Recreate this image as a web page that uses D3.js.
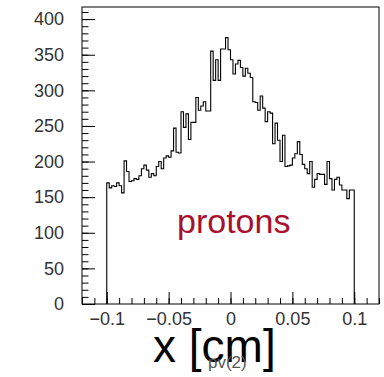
<!DOCTYPE html>
<meta charset="utf-8">
<style>
body { margin: 0; background: #fff; }
svg { display: block; }
.axis text { font-family: "Liberation Sans", Arial, sans-serif; font-size: 18px; fill: #333; }
.axis path { display: none; }
.axis line { stroke: #000; stroke-width: 1; }
</style>
<body>
<svg width="384" height="377"></svg>
</body>
<script src="https://d3js.org/d3.v7.min.js"></script>
<script>

// histogram: 100 bins from -0.1 to 0.1
var binLow = -0.1, binHigh = 0.1;
var counts = [
  170, 163, 166, 165, 170, 166, 156, 201, 186, 172,
  173, 176, 175, 180, 190, 195, 188, 178, 183, 180,
  193, 200, 190, 205, 208, 206, 215, 247, 213, 212,
  270, 248, 267, 231, 255, 255, 290, 272, 278, 284,
  271, 271, 355, 314, 343, 314, 358, 358, 374, 357,
  343, 323, 337, 342, 332, 320, 331, 324, 318, 284,
  283, 272, 292, 275, 256, 270, 268, 225, 254, 230,
  200, 237, 193, 194, 195, 205, 211, 228, 210, 196,
  190, 183, 200, 164, 175, 183, 182, 182, 168, 200,
  176, 160, 175, 178, 167, 160, 160, 148, 160, 160
];

var xTicks = [-0.1, -0.05, 0, 0.05, 0.1];
var xTickLabels = ["\u22120.1", "\u22120.05", "0", "0.05", "0.1"];
var yTicks = [0, 50, 100, 150, 200, 250, 300, 350, 400];
var xTitle = "x [cm]";
var histName = "pv(2)";
var label = "protons";

var svg = d3.select("svg"),
    margin = {top: 7, right: 5, bottom: 73, left: 82},
    width = +svg.attr("width") - margin.left - margin.right,
    height = +svg.attr("height") - margin.top - margin.bottom;

var x = d3.scaleLinear().domain([-0.12, 0.12]).range([0, width]),
    y = d3.scaleLinear().domain([0, 417]).range([height, 0]);

var g = svg.append("g")
    .attr("transform", "translate(" + margin.left + "," + margin.top + ")");

// frame
g.append("rect")
    .attr("width", width)
    .attr("height", height)
    .attr("fill", "none")
    .attr("stroke", "#000")
    .attr("stroke-width", 1);

// minor ticks (no labels)
g.append("g")
    .attr("class", "axis")
    .attr("transform", "translate(0," + height + ")")
    .call(d3.axisBottom(x)
      .tickValues(d3.range(-12, 13).map(function(d) { return d / 100; }))
      .tickSize(-6).tickFormat(""))
    .selectAll("text").remove();

g.append("g")
    .attr("class", "axis")
    .call(d3.axisLeft(y)
      .tickValues(d3.range(0, 411, 10))
      .tickSize(-6.5).tickFormat(""))
    .selectAll("text").remove();

// major ticks + labels
g.append("g")
    .attr("class", "axis")
    .attr("transform", "translate(0," + height + ")")
    .call(d3.axisBottom(x)
      .tickValues(xTicks)
      .tickSize(-12).tickPadding(8)
      .tickFormat(function(d, i) { return xTickLabels[i]; }));

g.append("g")
    .attr("class", "axis")
    .call(d3.axisLeft(y)
      .tickValues(yTicks)
      .tickSize(-13).tickPadding(18)
      .tickFormat(function(d) { return d; }));

// histogram outline
var binWidth = (binHigh - binLow) / counts.length;
var pts = [[binLow, 0]];
counts.forEach(function(c, i) { pts.push([binLow + i * binWidth, c]); });
pts.push([binHigh, counts[counts.length - 1]]);
pts.push([binHigh, 0]);

var line = d3.line()
    .x(function(d) { return x(d[0]); })
    .y(function(d) { return y(d[1]); })
    .curve(d3.curveStepAfter);

g.append("path")
    .datum(pts)
    .attr("d", line)
    .attr("fill", "none")
    .attr("stroke", "#000")
    .attr("stroke-width", 1.1);

// label
g.append("text")
    .attr("x", 95)
    .attr("y", 226)
    .attr("font-family", "Liberation Sans, Arial, sans-serif")
    .attr("font-size", 34)
    .attr("fill", "#a8102f")
    .text(label);

// x title
svg.append("text")
    .attr("x", 153)
    .attr("y", 362)
    .attr("font-family", "Liberation Sans, Arial, sans-serif")
    .attr("font-size", 46)
    .attr("fill", "#000")
    .text(xTitle);

svg.append("text")
    .attr("x", 208)
    .attr("y", 368)
    .attr("font-family", "Liberation Sans, Arial, sans-serif")
    .attr("font-size", 17)
    .attr("fill", "#555")
    .text(histName);

</script>
